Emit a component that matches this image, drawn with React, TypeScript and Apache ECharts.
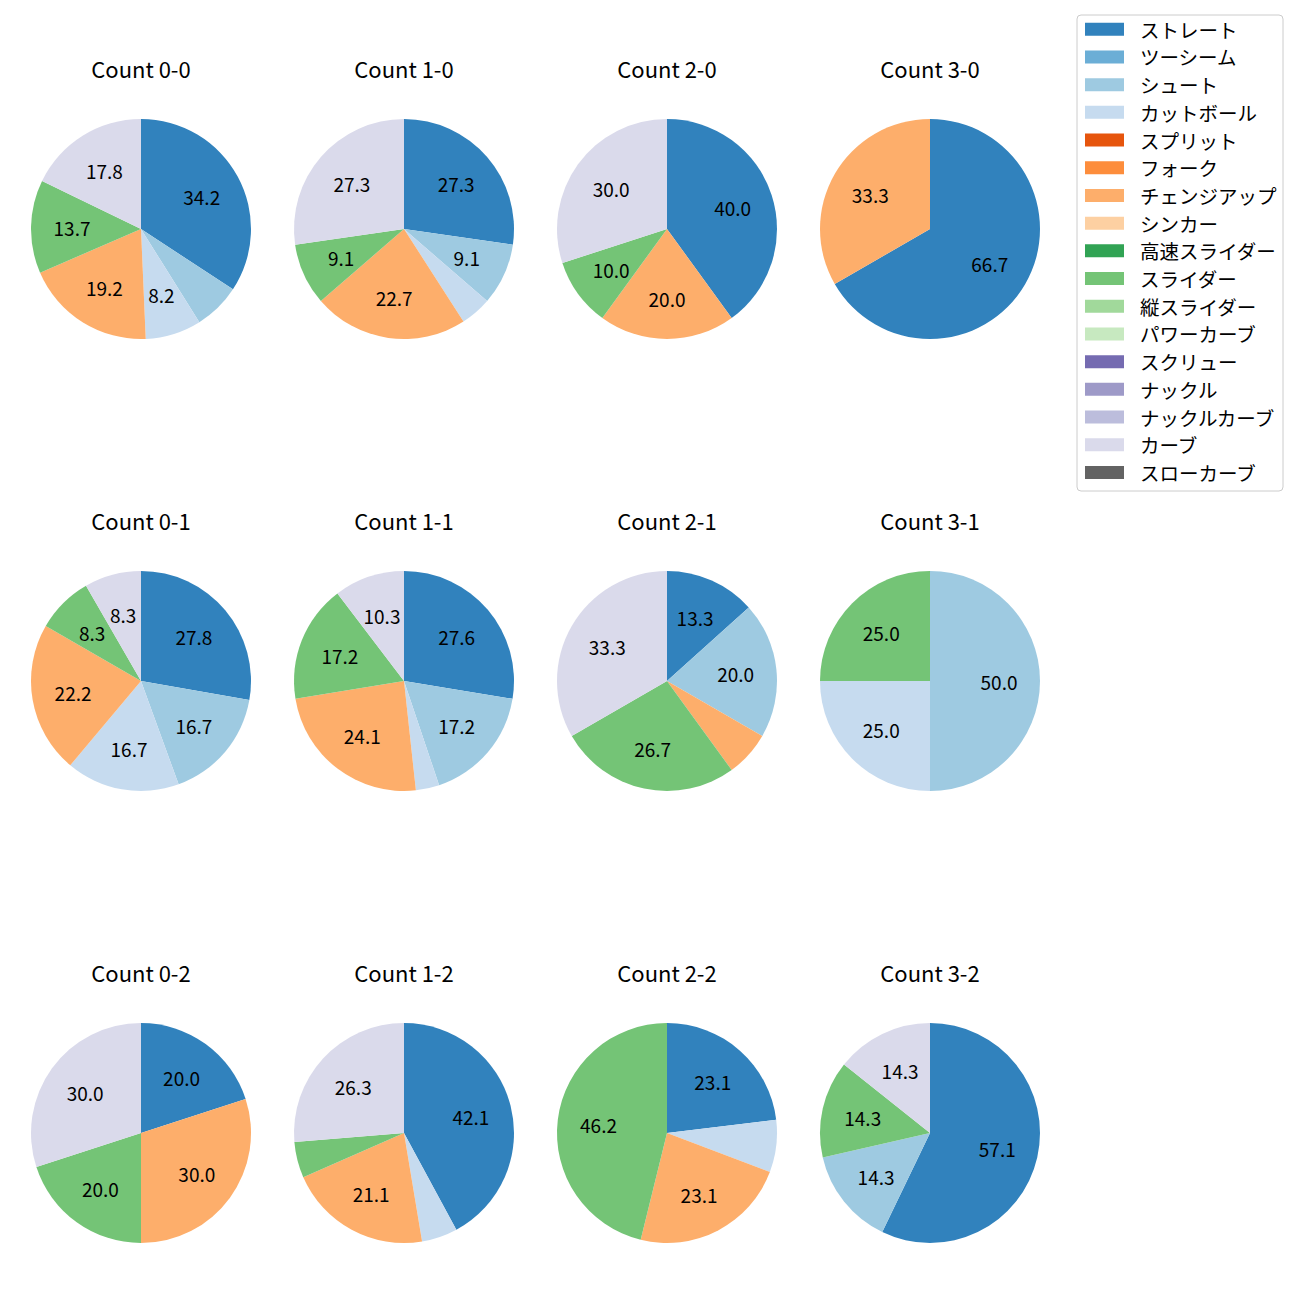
import React, { useEffect, useRef } from "react";
import * as echarts from "echarts";

const FONT = "'Noto Sans CJK JP', 'Noto Sans', sans-serif";

const categories = [
  "ストレート", "ツーシーム", "シュート", "カットボール", "スプリット", "フォーク",
  "チェンジアップ", "シンカー", "高速スライダー", "スライダー", "縦スライダー",
  "パワーカーブ", "スクリュー", "ナックル", "ナックルカーブ", "カーブ", "スローカーブ",
];

const colors = [
  "#3182bd", "#6baed6", "#9ecae1", "#c6dbef", "#e6550d", "#fd8d3c", "#fdae6b",
  "#fdd0a2", "#31a354", "#74c476", "#a1d99b", "#c7e9c0", "#756bb1", "#9e9ac8",
  "#bcbddc", "#dadaeb", "#636363",
];

// pitch counts per category (same order as categories)
const count00 = [25, 0, 5, 6, 0, 0, 14, 0, 0, 10, 0, 0, 0, 0, 0, 13, 0];
const count10 = [6, 0, 2, 1, 0, 0, 5, 0, 0, 2, 0, 0, 0, 0, 0, 6, 0];
const count20 = [4, 0, 0, 0, 0, 0, 2, 0, 0, 1, 0, 0, 0, 0, 0, 3, 0];
const count30 = [2, 0, 0, 0, 0, 0, 1, 0, 0, 0, 0, 0, 0, 0, 0, 0, 0];
const count01 = [10, 0, 6, 6, 0, 0, 8, 0, 0, 3, 0, 0, 0, 0, 0, 3, 0];
const count11 = [8, 0, 5, 1, 0, 0, 7, 0, 0, 5, 0, 0, 0, 0, 0, 3, 0];
const count21 = [2, 0, 3, 0, 0, 0, 1, 0, 0, 4, 0, 0, 0, 0, 0, 5, 0];
const count31 = [0, 0, 2, 1, 0, 0, 0, 0, 0, 1, 0, 0, 0, 0, 0, 0, 0];
const count02 = [2, 0, 0, 0, 0, 0, 3, 0, 0, 2, 0, 0, 0, 0, 0, 3, 0];
const count12 = [8, 0, 0, 1, 0, 0, 4, 0, 0, 1, 0, 0, 0, 0, 0, 5, 0];
const count22 = [3, 0, 0, 1, 0, 0, 3, 0, 0, 6, 0, 0, 0, 0, 0, 0, 0];
const count32 = [4, 0, 1, 0, 0, 0, 0, 0, 0, 1, 0, 0, 0, 0, 0, 1, 0];

const panelTitles = [
  "Count 0-0", "Count 1-0", "Count 2-0", "Count 3-0",
  "Count 0-1", "Count 1-1", "Count 2-1", "Count 3-1",
  "Count 0-2", "Count 1-2", "Count 2-2", "Count 3-2",
];
const panelCounts = [
  count00, count10, count20, count30,
  count01, count11, count21, count31,
  count02, count12, count22, count32,
];

const colX = [141, 404, 667, 930];
const rowY = [229, 681, 1133];
const R = 110;
const LABEL_MIN_PCT = 8;

function buildOption() {
  const series: any[] = [];
  const graphic: any[] = [];
  panelCounts.forEach((counts, idx) => {
    const cx = colX[idx % 4];
    const cy = rowY[Math.floor(idx / 4)];
    const total = counts.reduce((a, b) => a + b, 0);
    const data = categories
      .map((name, i) => ({ name, value: counts[i], itemStyle: { color: colors[i] } }))
      .filter((d) => d.value > 0);
    series.push({
      type: "pie",
      center: [cx, cy],
      radius: R,
      startAngle: 90,
      clockwise: true,
      silent: true,
      label: { show: false },
      labelLine: { show: false },
      itemStyle: { borderWidth: 0 },
      emphasis: { disabled: true },
      data,
    });
    series.push({
      type: "pie",
      center: [cx, cy],
      radius: [R * 0.2, R],
      startAngle: 90,
      clockwise: true,
      silent: true,
      legendHoverLink: false,
      emphasis: { disabled: true },
      itemStyle: { color: "rgba(0,0,0,0)", borderWidth: 0 },
      labelLine: { show: false },
      label: {
        show: true,
        position: "inside",
        color: "#000",
        fontSize: 19,
        fontFamily: FONT,
        formatter: (p: any) => {
          const pct = (p.value / total) * 100;
          return pct >= LABEL_MIN_PCT ? pct.toFixed(1) : "";
        },
      },
      data: data.map((d) => ({ name: d.name, value: d.value, itemStyle: { color: "rgba(0,0,0,0)" } })),
    });
    graphic.push({
      type: "text",
      x: cx,
      y: cy - 161,
      style: {
        text: panelTitles[idx],
        textAlign: "center",
        textVerticalAlign: "middle",
        fontSize: 22,
        fontFamily: FONT,
        fill: "#000",
      },
    });
  });
  // hidden series that carries every category for the legend
  series.push({
    type: "pie",
    center: [-500, -500],
    radius: 0,
    silent: true,
    label: { show: false },
    labelLine: { show: false },
    data: categories.map((name, i) => ({ name, value: 1, itemStyle: { color: colors[i] } })),
  });

  return {
    animation: false,
    backgroundColor: "#ffffff",
    legend: {
      orient: "vertical",
      left: 1077,
      top: 15,
      padding: [4.5, 6.5, 8.8, 8],
      itemWidth: 39,
      itemHeight: 13,
      itemGap: 8.2,
      icon: "rect",
      borderColor: "#cccccc",
      borderWidth: 1,
      borderRadius: 4,
      selectedMode: false,
      textStyle: { fontSize: 19.5, fontFamily: FONT, color: "#000", padding: [0, 0, 0, 11] },
      data: categories,
    },
    graphic,
    series,
  };
}

export default function App() {
  const ref = useRef<HTMLDivElement>(null);
  useEffect(() => {
    if (!ref.current) return;
    const chart = echarts.init(ref.current, null, { renderer: "svg" });
    chart.setOption(buildOption() as any);
    return () => chart.dispose();
  }, []);
  return (
    <div
      ref={ref}
      style={{ position: "absolute", left: 0, top: 0, width: 1300, height: 1300, background: "#fff" }}
    />
  );
}
